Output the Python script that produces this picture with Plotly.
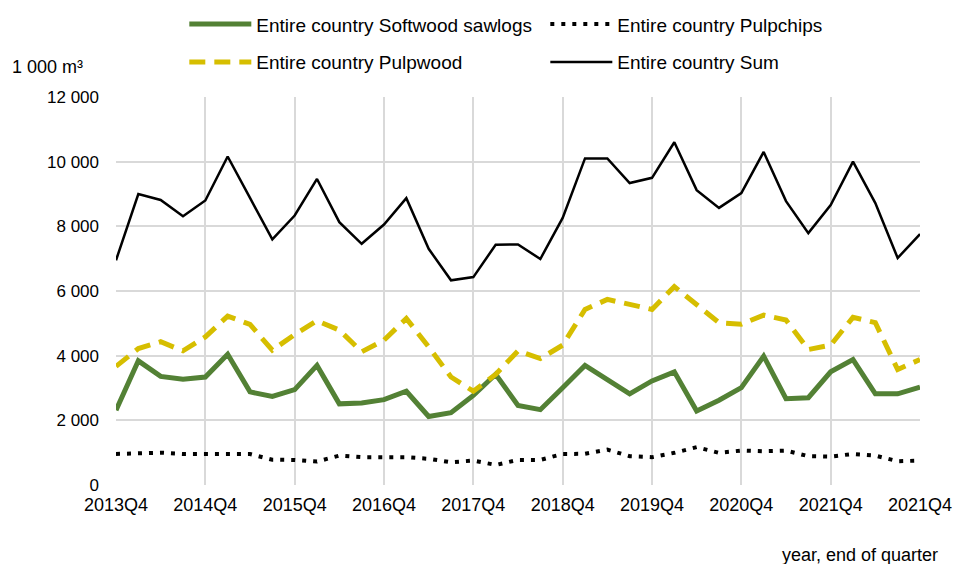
import plotly.graph_objects as go

quarters = ["2013Q4","2014Q1","2014Q2","2014Q3","2014Q4","2015Q1","2015Q2","2015Q3","2015Q4",
            "2016Q1","2016Q2","2016Q3","2016Q4","2017Q1","2017Q2","2017Q3","2017Q4",
            "2018Q1","2018Q2","2018Q3","2018Q4","2019Q1","2019Q2","2019Q3","2019Q4",
            "2020Q1","2020Q2","2020Q3","2020Q4","2021Q1","2021Q2","2021Q3","2021Q4",
            "2022Q1","2022Q2","2022Q3","2022Q4"]

sawlogs = [2310, 3840, 3360, 3270, 3340, 4045, 2880, 2740, 2950, 3700, 2510, 2535, 2640, 2900,
           2120, 2235, 2770, 3425, 2460, 2330, 3010, 3700, 3260, 2820, 3220, 3500, 2290, 2620,
           3010, 3985, 2670, 2700, 3500, 3880, 2820, 2820, 3030]

pulpwood = [3670, 4220, 4430, 4150, 4580, 5225, 4965, 4170, 4655, 5080, 4790, 4120, 4480, 5150,
            4270, 3340, 2900, 3420, 4150, 3910, 4325, 5430, 5740, 5600, 5430, 6135, 5600, 5020,
            4975, 5255, 5100, 4190, 4325, 5185, 5020, 3570, 3880]

pulpchips = [960, 965, 1000, 960, 965, 940, 960, 780, 775, 725, 910, 860, 860, 860,
             810, 705, 755, 620, 775, 775, 960, 965, 1095, 890, 860, 995, 1170, 995,
             1065, 1045, 1065, 890, 880, 960, 910, 735, 755]

total = [6950, 9000, 8815, 8315, 8800, 10160, 8880, 7595, 8335, 9465, 8130, 7460, 8055, 8870,
         7305, 6330, 6430, 7430, 7440, 6990, 8260, 10100, 10100, 9340, 9500, 10600, 9120, 8570,
         9030, 10300, 8780, 7790, 8660, 10000, 8720, 7020, 7760]

tick_positions = [0, 4, 8, 12, 16, 20, 24, 28, 32, 36]
tick_labels = ["2013Q4","2014Q4","2015Q4","2016Q4","2017Q4","2018Q4","2019Q4","2020Q4","2021Q4","2021Q4"]

x = list(range(len(quarters)))
FONT = "Liberation Sans, Arial, sans-serif"

fig = go.Figure()
fig.add_trace(go.Scatter(x=x, y=sawlogs, mode="lines", name="Entire country Softwood sawlogs",
                         line=dict(color="#538135", width=5), legend="legend", text=quarters))
fig.add_trace(go.Scatter(x=x, y=pulpchips, mode="lines", name="Entire country Pulpchips",
                         line=dict(color="#000000", width=4, dash="4px,7px"), legend="legend", text=quarters))
fig.add_trace(go.Scatter(x=x, y=pulpwood, mode="lines", name="Entire country Pulpwood",
                         line=dict(color="#D6BE00", width=5, dash="16px,9px"), legend="legend2", text=quarters))
fig.add_trace(go.Scatter(x=x, y=total, mode="lines", name="Entire country Sum",
                         line=dict(color="#000000", width=2.5), legend="legend2", text=quarters))

legend_common = dict(orientation="h", xref="container", yref="container",
                     xanchor="left", yanchor="middle", bgcolor="rgba(0,0,0,0)",
                     font=dict(family=FONT, size=19, color="#000"), itemwidth=62,
                     entrywidth=284, entrywidthmode="pixels", traceorder="normal")

fig.update_layout(
    template="none",
    width=955, height=564,
    margin=dict(l=116, r=35, t=97, b=79, autoexpand=False),
    paper_bgcolor="white", plot_bgcolor="white",
    separators=". ",
    font=dict(family=FONT, size=18, color="#000"),
    showlegend=True,
    legend=dict(x=0.193, y=0.957, **legend_common),
    legend2=dict(x=0.193, y=0.890, **legend_common),
    xaxis=dict(range=[0, 36], tickmode="array", tickvals=tick_positions, ticktext=tick_labels,
               showgrid=True, gridcolor="#D9D9D9", gridwidth=1.5, zeroline=False,
               showline=False, ticks="", tickfont=dict(size=18), ticklabelstandoff=7,
               automargin=False),
    yaxis=dict(range=[0, 12000], tickmode="linear", tick0=0, dtick=2000, tickformat=",d",
               showgrid=True, gridcolor="#D9D9D9", gridwidth=1.5, zeroline=False,
               showline=False, ticks="", tickfont=dict(size=17), ticklabelstandoff=16,
               automargin=False),
    annotations=[
        dict(text="1 000 m³", xref="paper", yref="paper", x=-0.1318, y=1.077, xanchor="left",
             yanchor="middle", showarrow=False, font=dict(size=18)),
        dict(text="year, end of quarter", xref="paper", yref="paper", x=1.0249, y=-0.18,
             xanchor="right", yanchor="middle", showarrow=False, font=dict(size=18)),
    ],
)

fig.write_html("out.html", config={"displayModeBar": False},
               post_script="document.body.style.margin='0';document.body.style.padding='0';")
